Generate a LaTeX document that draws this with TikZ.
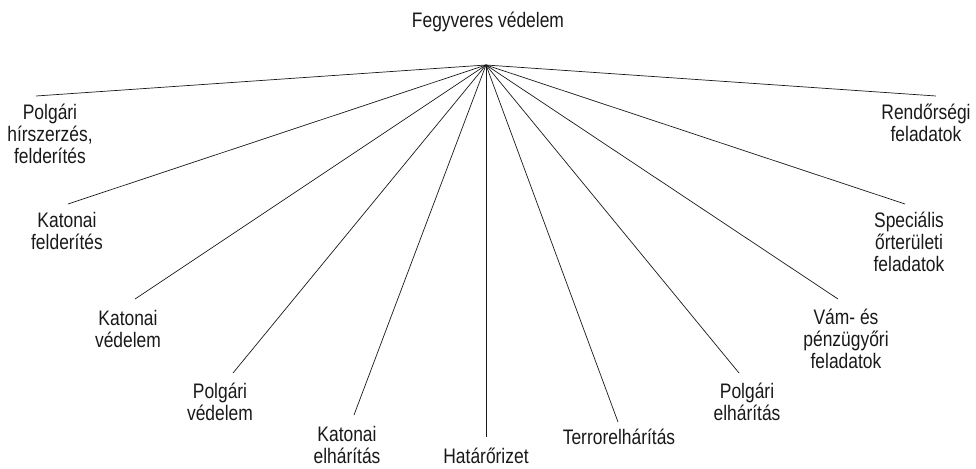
\documentclass[tikz,border=0pt]{standalone}
\usepackage{fontspec}
\setmainfont[FakeStretch=0.83]{Liberation Sans}

\begin{document}
\begin{tikzpicture}[x=1pt,y=-1pt,
	branchtext/.style={align=center, inner sep=0pt, text=black!90, font=\fontsize{21}{22}\selectfont},
	spoke/.style={line width=0.7pt, color=black!90}]
	\useasboundingbox (0,0) rectangle (976,468);

	% Root
	\coordinate (hub) at (486,65);
	\node[branchtext] (root) at (488,22) {Fegyveres védelem};

	% Left side
	\begin{scope}
		\coordinate (hirszend) at (36,96);
		\node[branchtext] (hirsz) at (50,134) {Polgári\\hírszerzés,\\felderítés};
		\draw[spoke] (hub)--(hirszend);

		\coordinate (katfelend) at (68,204);
		\node[branchtext] (katfel) at (67,231) {Katonai\\felderítés};
		\draw[spoke] (hub)--(katfelend);

		\coordinate (katvedend) at (135,299);
		\node[branchtext] (katved) at (128,329) {Katonai\\védelem};
		\draw[spoke] (hub)--(katvedend);

		\coordinate (polgvedend) at (233,373);
		\node[branchtext] (polgved) at (220,402) {Polgári\\védelem};
		\draw[spoke] (hub)--(polgvedend);

		\coordinate (katelhend) at (354,415);
		\node[branchtext] (katelh) at (347,445) {Katonai\\elhárítás};
		\draw[spoke] (hub)--(katelhend);
	\end{scope}

	% Middle
	\coordinate (hatarend) at (486,437);
	\node[branchtext] (hatar) at (486,456) {Határőrizet};
	\draw[spoke] (hub)--(hatarend);

	% Right side
	\begin{scope}
		\coordinate (terrend) at (618,422);
		\node[branchtext] (terr) at (619,437) {Terrorelhárítás};
		\draw[spoke] (hub)--(terrend);

		\coordinate (polgelhend) at (739,373);
		\node[branchtext] (polgelh) at (747,402) {Polgári\\elhárítás};
		\draw[spoke] (hub)--(polgelhend);

		\coordinate (vamend) at (838,299);
		\node[branchtext] (vam) at (846,339) {Vám- és\\pénzügyőri\\feladatok};
		\draw[spoke] (hub)--(vamend);

		\coordinate (specend) at (905,204);
		\node[branchtext] (spec) at (909,242) {Speciális\\őrterületi\\feladatok};
		\draw[spoke] (hub)--(specend);

		\coordinate (rendend) at (936,96);
		\node[branchtext] (rend) at (926,123) {Rendőrségi\\feladatok};
		\draw[spoke] (hub)--(rendend);
	\end{scope}
\end{tikzpicture}
\end{document}
